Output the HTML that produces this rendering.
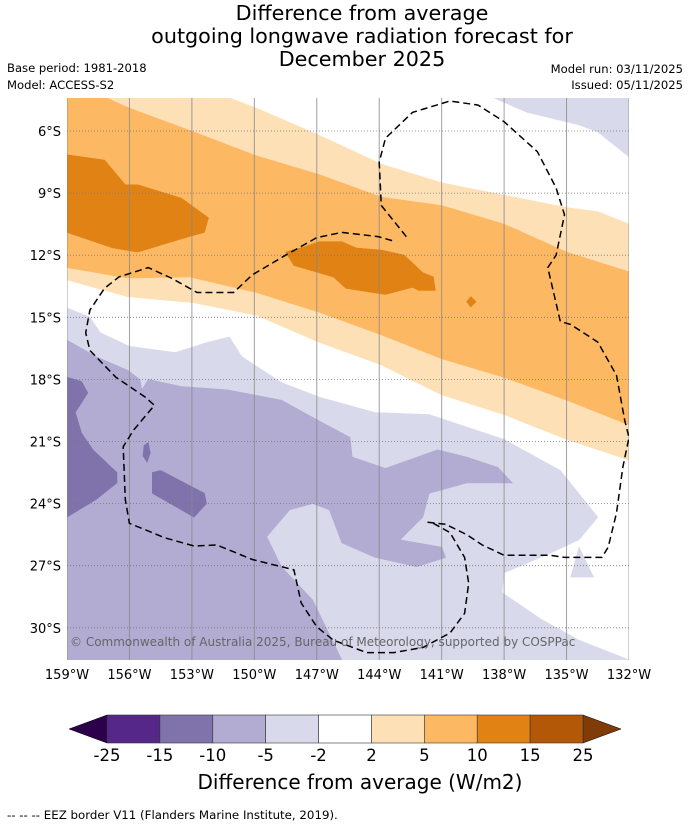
<!DOCTYPE html>
<html><head><meta charset="utf-8"><style>
body{margin:0;background:#fff;}
svg text{font-family:"DejaVu Sans","Liberation Sans",sans-serif;}
</style></head><body>
<svg id="chart" width="690" height="827" viewBox="0 0 690 827" xmlns="http://www.w3.org/2000/svg">
<text x="362" y="20" font-size="20.7" text-anchor="middle">Difference from average</text>
<text x="362" y="43" font-size="20.7" text-anchor="middle">outgoing longwave radiation forecast for</text>
<text x="362" y="66" font-size="20.7" text-anchor="middle">December 2025</text>
<text x="7" y="72" font-size="11.6">Base period: 1981-2018</text>
<text x="7" y="89" font-size="11.6">Model: ACCESS-S2</text>
<text x="683" y="73" font-size="11.6" text-anchor="end">Model run: 03/11/2025</text>
<text x="683" y="89" font-size="11.6" text-anchor="end">Issued: 05/11/2025</text>
<defs><clipPath id="mapclip"><rect x="67" y="98" width="562" height="562"/></clipPath></defs>
<g id="map" clip-path="url(#mapclip)"></g>
<g id="axes"></g>
<g id="cbar"></g>
<text x="360" y="789" font-size="20" text-anchor="middle">Difference from average (W/m2)</text>
<text x="7" y="819" font-size="11.8">--  --  -- EEZ border V11 (Flanders Marine Institute, 2019).</text>
</svg>
<script>
const lonTicks=[159,156,153,150,147,144,141,138,135,132];
const latTicks=[6,9,12,15,18,21,24,27,30];
const cbLevels=["-25","-15","-10","-5","-2","2","5","10","15","25"];
const cbColors=["#542788","#8073ac","#b2abd2","#d8daeb","#ffffff","#fee0b6","#fdb863","#e08214","#b35806"];
const lowColor="#2d004b", highColor="#7f3b08";
const band2=[[151.2,4.4],[149.9,4.9],[146.9,6.2],[143.9,7.6],[141.0,8.5],[138,9.1],[135,9.7],[133.5,9.9],[132,10.5],[132,21.9],[135,20.9],[138,19.7],[141,18.75],[143.9,17.3],[146.9,16.2],[149.9,14.9],[152.9,14.3],[156.1,14.0],[159,13.2],[159,4.4]];
const band5=[[157.1,4.4],[156,4.9],[152.9,6.05],[149.9,7.2],[146.9,8.1],[143.9,9.2],[141,9.6],[138,10.5],[135,11.85],[132,12.8],[132,20.2],[135,19.0],[138,17.9],[141,17.0],[143.9,15.85],[146.9,14.75],[149.9,13.8],[153.1,13.05],[156.1,13.1],[159,12.6],[159,4.4]];
const band10a=[[159,7.15],[157.2,7.4],[156.2,8.6],[155.6,8.6],[153.5,9.25],[152.2,10.2],[152.4,10.9],[153.3,11.15],[155.6,11.85],[156.8,11.65],[159,10.9]];
const band10b=[[148.5,11.85],[147.6,11.6],[146.9,11.35],[145.8,11.35],[145.1,11.65],[143.9,11.75],[142.8,12.0],[141.9,12.85],[141.4,13.05],[141.3,13.7],[142.1,13.7],[142.4,13.55],[143.7,13.9],[145.6,13.6],[146.2,13.05],[148.1,12.5]];
const band10c=[[139.6,14.0],[139.8,14.25],[139.6,14.5],[139.35,14.25]];
const neg2top=[[138.5,4.4],[136.9,5.1],[134.4,5.7],[133.5,6.05],[132,7.25],[132,4.4]];
const neg2=[[159,14.55],[157.9,15.0],[157.4,15.75],[156,16.4],[153.8,16.7],[152.2,16.2],[151.2,15.95],[150.6,16.9],[148.7,18.15],[146.9,18.85],[144.2,19.6],[141.6,19.7],[139.8,20.3],[138,20.9],[135.3,22.4],[133.5,24.65],[134.4,25.75],[135.8,26.4],[138,27.35],[138.1,28.3],[136.2,29.6],[134.4,30.6],[132,31.55],[159,31.55]];
const neg2tri=[[134.4,26.1],[134.8,27.55],[133.7,27.55]];
const neg5=[[159,16.1],[157.6,16.9],[156.1,17.55],[155.5,18.0],[155.4,18.5],[155.1,18.0],[153.5,18.35],[151.3,18.5],[148.7,19.0],[146.9,20.0],[145.4,20.8],[145.3,21.75],[143.7,22.3],[141.2,21.4],[139.8,21.75],[138.3,22.25],[137.6,23.0],[139.8,23.0],[141.6,23.5],[141.9,24.65],[143,25.75],[141,26.1],[140.8,26.6],[142.2,27.05],[144.2,26.6],[145.8,25.9],[146.4,24.3],[147.2,24.0],[148.3,24.3],[149.4,25.6],[148.7,27.05],[147.2,28.65],[145.8,31.55],[159,31.55]];
const neg10a=[[159,17.9],[158.3,18.1],[158,18.65],[158.6,19.6],[158.3,20.6],[157.75,21.4],[156.6,22.5],[156.6,23.0],[157.6,23.8],[159,24.65]];
const neg10b=[[154.9,22.5],[154.5,22.4],[152.4,23.5],[152.3,24.0],[152.9,24.65],[154.9,23.5]];
const neg10c=[[155.3,21.2],[155.1,21.05],[155.0,21.55],[155.15,22.0],[155.35,21.7]];
const eezA=[[142.7,11.1],[143.9,9.6],[144,7.5],[143.7,6.35],[142.4,5.1],[140.6,4.55],[139.25,4.75],[138,5.55],[136.4,7.0],[135.5,8.75],[135.1,10.05],[135.5,12.0],[135.9,12.6],[135.3,15.2],[134.8,15.35],[133.5,16.2],[132.6,17.8],[132.2,20.0],[132,20.8],[132.3,22.25],[132.6,24.45],[133,26.1],[133.3,26.6],[135.1,26.6],[135.8,26.5],[138,26.5],[139.05,26.0],[139.8,25.5],[140.8,25.0],[141.7,24.9]];
const eezB=[[141.4,24.95],[140.6,25.4],[139.9,26.6],[139.7,27.85],[139.9,29.3],[140.6,30.25],[141.9,30.95],[143.3,31.2],[144.6,31.2],[146.2,30.6],[147.0,29.95],[147.75,28.8],[148.1,27.2],[148.7,27.05],[150.1,26.7],[151.8,26.0],[152.9,26.05],[154.3,25.65],[156,24.95],[156.2,23.8],[156.3,21.25],[155.8,20.45],[154.8,19.25],[155.25,18.85],[156.65,17.9],[157.9,16.6],[158.1,15.75],[157.9,14.65],[157.2,13.6],[156.5,13.05],[155.1,12.6],[154,13.1],[152.75,13.8],[151,13.8],[150.1,12.95],[148.5,12.0],[147,11.15],[145.8,10.9],[144.05,11.1],[143.2,11.35]];

const NS="http://www.w3.org/2000/svg";
const X0=67,X1=629,LON0=159,LON1=132;
const Y6=131,PXLAT=20.7;
function xs(lonW){return X0+(LON0-lonW)*(X1-X0)/(LON0-LON1);}
function ys(latS){return Y6+(latS-6)*PXLAT;}
function mk(tag,attrs,parent){const e=document.createElementNS(NS,tag);for(const k in attrs)e.setAttribute(k,attrs[k]);parent.appendChild(e);return e;}
function pts(arr){return arr.map(p=>xs(p[0]).toFixed(1)+","+ys(p[1]).toFixed(1)).join(" ");}
const map=document.getElementById('map');
function fill(arr,color,name){
  const e=mk('polygon',{points:pts(arr),fill:color,stroke:color,'stroke-width':0.6},map);
  
  
}
fill(band2,cbColors[5],'contour-2-to-5');
fill(band5,cbColors[6],'contour-5-to-10');
fill(band10a,cbColors[7],'contour-10-to-15-west');
fill(band10b,cbColors[7],'contour-10-to-15-central');
fill(band10c,cbColors[7],'contour-10-to-15-small');
fill(neg2top,cbColors[3],'contour-minus2-north-east');
fill(neg2,cbColors[3],'contour-minus2-to-minus5');
fill(neg2tri,cbColors[3],'contour-minus2-small');
fill(neg5,cbColors[2],'contour-minus5-to-minus10');
fill(neg10a,cbColors[1],'contour-minus10-west');
fill(neg10b,cbColors[1],'contour-minus10-blob');
fill(neg10c,cbColors[1],'contour-minus10-sliver');
lonTicks.forEach(l=>{
  const e=mk('line',{x1:xs(l),x2:xs(l),y1:98,y2:660,stroke:'#888','stroke-width':1,'stroke-opacity':0.8},map);
  
  
});
latTicks.forEach(l=>{
  const e=mk('line',{x1:67,x2:629,y1:ys(l),y2:ys(l),stroke:'#777','stroke-width':0.8,'stroke-dasharray':'1,2'},map);
  
  
});
[eezA,eezB].forEach((a,i)=>{
  const e=mk('polyline',{points:pts(a),fill:'none',stroke:'#000','stroke-width':1.5,'stroke-dasharray':'7,4'},map);
  
  
});
const cr=mk('text',{x:70,y:646,'font-size':12,fill:'#666'},map);
cr.textContent='© Commonwealth of Australia 2025, Bureau of Meteorology, supported by COSPPac';


const axes=document.getElementById('axes');
latTicks.forEach(l=>{
  const t=mk('text',{x:61,y:ys(l)+5,'font-size':13,'text-anchor':'end'},axes);
  t.textContent=l+'°S';
  
  
});
lonTicks.forEach(l=>{
  const t=mk('text',{x:xs(l),y:679,'font-size':13,'text-anchor':'middle'},axes);
  t.textContent=l+'°W';
  
  
});
const cb=document.getElementById('cbar');
const CB0=107,CB1=583,CBY=715,CBH=28,n=cbColors.length,w=(CB1-CB0)/n;
const lt=mk('polygon',{points:`${CB0},${CBY} 69,${CBY+CBH/2} ${CB0},${CBY+CBH}`,fill:lowColor,stroke:'#000','stroke-width':0.5},cb);


const rt=mk('polygon',{points:`${CB1},${CBY} 621,${CBY+CBH/2} ${CB1},${CBY+CBH}`,fill:highColor,stroke:'#000','stroke-width':0.5},cb);


cbColors.forEach((c,i)=>{
  const r=mk('rect',{x:CB0+i*w,y:CBY,width:w,height:CBH,fill:c,stroke:'#333','stroke-width':0.6},cb);
  
  
});
cbLevels.forEach((s,i)=>{
  const t=mk('text',{x:CB0+i*w,y:761,'font-size':16.5,'text-anchor':'middle'},cb);
  t.textContent=s;
  
  
});
</script>
</body></html>
